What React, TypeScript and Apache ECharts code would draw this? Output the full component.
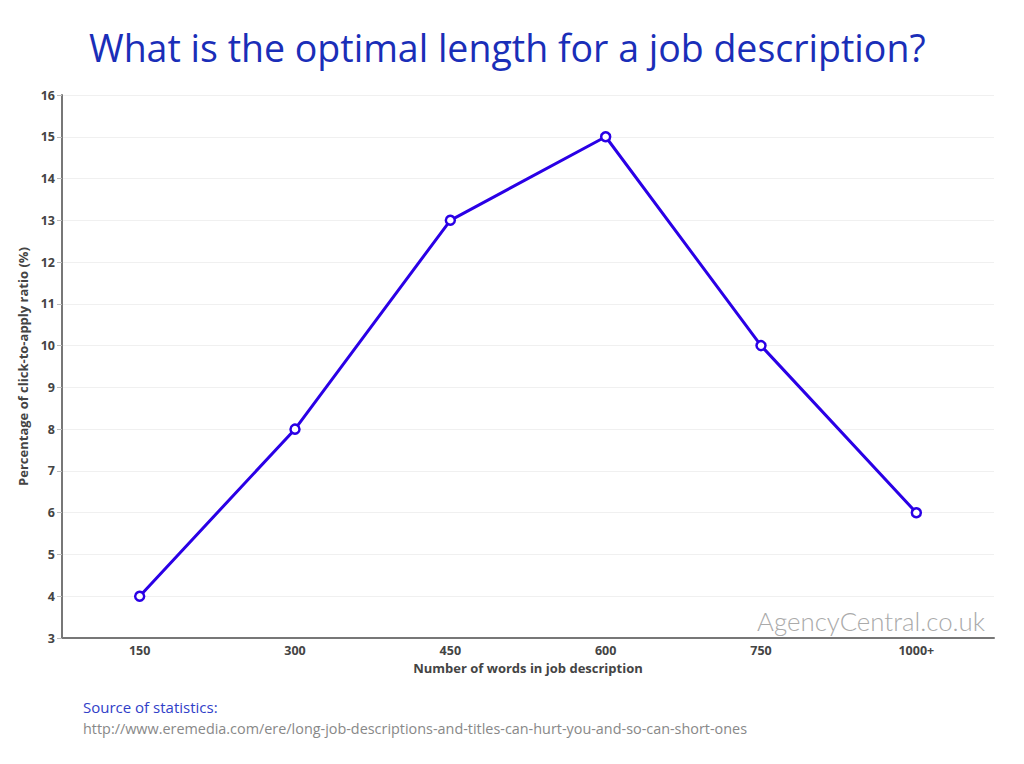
import React, { useEffect, useRef } from "react";
import * as echarts from "echarts";

const categories = ["150", "300", "450", "600", "750", "1000+"];
const ratioValues = [4, 8, 13, 15, 10, 6];
const titleText = "What is the optimal length for a job description?";
const xAxisName = "Number of words in job description";
const yAxisName = "Percentage of click-to-apply ratio (%)";
const watermark = "AgencyCentral.co.uk";
const sourceLabel = "Source of statistics:";
const sourceUrl = "http://www.eremedia.com/ere/long-job-descriptions-and-titles-can-hurt-you-and-so-can-short-ones";

const FONT = "'Open Sans', 'Noto Sans', sans-serif";

export default function App() {
  const ref = useRef<HTMLDivElement>(null);
  useEffect(() => {
    if (!ref.current) return;
    const chart = echarts.init(ref.current, undefined, { renderer: "svg" });
    chart.setOption({
      animation: false,
      backgroundColor: "#ffffff",
      textStyle: { fontFamily: FONT },
      title: {
        text: titleText,
        left: 84,
        top: 23,
        textStyle: { fontFamily: FONT, fontSize: 37.5, fontWeight: "normal", color: "#1a2eb8" },
      },
      grid: { left: 62, right: 30, top: 95, bottom: 126 },
      xAxis: {
        type: "category",
        data: categories,
        boundaryGap: true,
        name: xAxisName,
        nameLocation: "middle",
        nameGap: 16,
        nameTextStyle: { fontFamily: FONT, fontSize: 13, fontWeight: "bold", color: "#444" },
        axisLine: { lineStyle: { color: "#777", width: 2 } },
        axisTick: { alignWithLabel: true, length: 5, lineStyle: { color: "#bbb" } },
        axisLabel: { margin: 6, fontFamily: FONT, fontSize: 12.5, fontWeight: "bold", color: "#444" },
        splitLine: { show: false },
      },
      yAxis: {
        type: "value",
        min: 3,
        max: 16,
        interval: 1,
        name: yAxisName,
        nameLocation: "middle",
        nameGap: 25,
        nameTextStyle: { fontFamily: FONT, fontSize: 13, fontWeight: "bold", color: "#444" },
        axisLine: { show: true, lineStyle: { color: "#777", width: 2 } },
        axisTick: { show: true, length: 5, lineStyle: { color: "#bbb" } },
        axisLabel: { margin: 7, fontFamily: FONT, fontSize: 12.5, fontWeight: "bold", color: "#444" },
        splitLine: { show: true, lineStyle: { color: "#f0f0f0", width: 1 } },
      },
      series: [
        {
          type: "line",
          data: ratioValues,
          symbol: "circle",
          symbolSize: 9,
          lineStyle: { color: "#2a00e6", width: 3 },
          itemStyle: { color: "#ffffff", borderColor: "#2a00e6", borderWidth: 2.5 },
        },
      ],
      graphic: [
        {
          type: "text",
          right: 39,
          top: 608,
          style: { text: watermark, fontFamily: "Lato, sans-serif", fontSize: 25.8, fontWeight: 300, fill: "#aaaaaa" },
        },
        {
          type: "text",
          left: 83,
          top: 699,
          style: { text: sourceLabel, fontFamily: FONT, fontSize: 15, fill: "#3040c8" },
        },
        {
          type: "text",
          left: 83,
          top: 721,
          style: { text: sourceUrl, fontFamily: FONT, fontSize: 14.4, fill: "#888888" },
        },
      ],
    });
    return () => chart.dispose();
  }, []);
  return (
    <div
      ref={ref}
      style={{ position: "fixed", left: 0, top: 0, width: 1024, height: 764 }}
    />
  );
}
